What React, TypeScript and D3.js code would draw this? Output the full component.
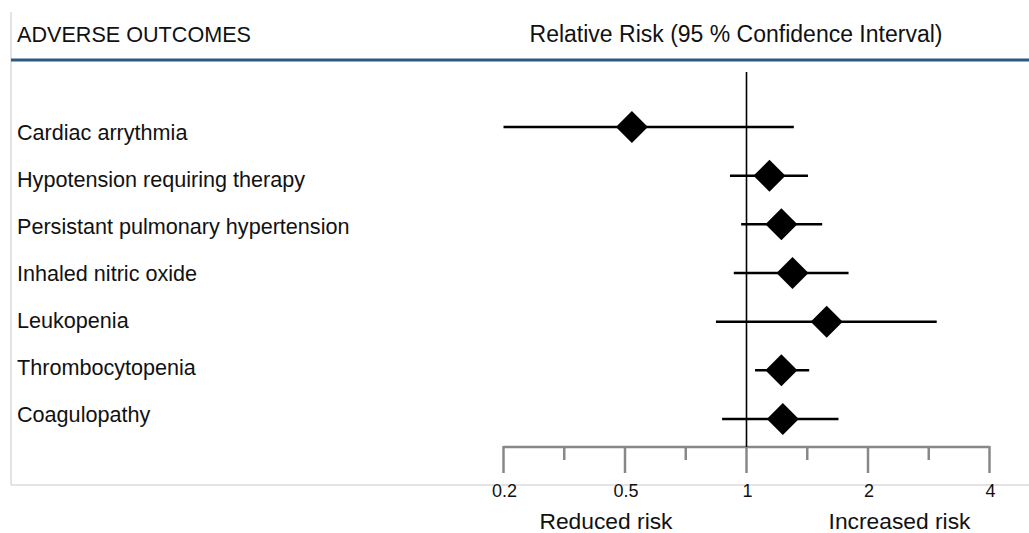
import React from "react";
import * as d3 from "d3";

const categories = [
  "Cardiac arrythmia",
  "Hypotension requiring therapy",
  "Persistant pulmonary hypertension",
  "Inhaled nitric oxide",
  "Leukopenia",
  "Thrombocytopenia",
  "Coagulopathy",
];
const riskPoint = [0.52, 1.14, 1.22, 1.3, 1.58, 1.22, 1.23];
const riskLower = [0.2, 0.91, 0.97, 0.93, 0.84, 1.05, 0.87];
const riskUpper = [1.31, 1.42, 1.54, 1.79, 2.96, 1.43, 1.69];
const tickValues = [0.2, 0.5, 1, 2, 4];
const tickLabels = ["0.2", "0.5", "1", "2", "4"];

const W = 1029;
const H = 533;
const FONT = "'Liberation Sans', Arial, Helvetica, sans-serif";

export default function App() {
  const x0 = 503.5;
  const x1 = 989.5;
  const step = (x1 - x0) / (tickValues.length - 1);
  const x = d3
    .scaleLog()
    .domain(tickValues)
    .range(tickValues.map((_, i) => x0 + i * step));

  const yMark = d3.scalePoint<string>().domain(categories).range([127, 419]);
  const yLabel = d3.scalePoint<string>().domain(categories).range([140, 422]);

  const minorTicks = tickValues.slice(1).map((v, i) => Math.sqrt(v * tickValues[i]));

  const axisY = 447;
  const diamond = d3.symbol().type(d3.symbolSquare).size(512)();

  return (
    <svg
      width={W}
      height={H}
      style={{ position: "absolute", left: 0, top: 0, background: "#fff" }}
      fontFamily={FONT}
    >
      {/* frame */}
      <line x1={11} y1={12} x2={11} y2={485} stroke="#c8c8c8" strokeWidth={1} />
      <line x1={11} y1={485} x2={W} y2={485} stroke="#c8c8c8" strokeWidth={1} />
      <line x1={11} y1={60} x2={W} y2={60} stroke="#2b5a84" strokeWidth={3} />

      {/* header */}
      <text x={17} y={41.5} fontSize={21.6} fill="#111">
        ADVERSE OUTCOMES
      </text>
      <text x={736} y={42} fontSize={23} fill="#111" textAnchor="middle">
        Relative Risk (95 % Confidence Interval)
      </text>

      {/* labels */}
      {categories.map((c) => (
        <text key={c} x={17} y={yLabel(c)} fontSize={21.6} fill="#111">
          {c}
        </text>
      ))}

      {/* axis */}
      <g stroke="#888" strokeWidth={2.5} fill="none">
        <line x1={x(tickValues[0])} x2={x(tickValues[tickValues.length - 1])} y1={axisY} y2={axisY} />
        {tickValues.map((v) => (
          <line key={"M" + v} x1={x(v)} x2={x(v)} y1={axisY - 1} y2={axisY + 26} />
        ))}
        {minorTicks.map((v) => (
          <line key={"m" + v} x1={x(v)} x2={x(v)} y1={axisY - 1} y2={axisY + 13} />
        ))}
      </g>
      {tickValues.map((v, i) => (
        <text key={"t" + v} x={x(v) + 1} y={497} fontSize={18} fill="#111" textAnchor="middle">
          {tickLabels[i]}
        </text>
      ))}
      <text x={606} y={529} fontSize={22.8} fill="#111" textAnchor="middle">
        Reduced risk
      </text>
      <text x={899.5} y={529} fontSize={22.8} fill="#111" textAnchor="middle">
        Increased risk
      </text>

      {/* reference line */}
      <line x1={x(1)} x2={x(1)} y1={72} y2={axisY} stroke="#000" strokeWidth={1.6} />

      {/* CIs and points */}
      {categories.map((c, i) => {
        const y = yMark(c)!;
        return (
          <g key={"r" + c}>
            <line x1={x(riskLower[i])} x2={x(riskUpper[i])} y1={y} y2={y} stroke="#000" strokeWidth={2.5} />
            <path d={diamond!} transform={`translate(${x(riskPoint[i])},${y}) rotate(45)`} fill="#000" />
          </g>
        );
      })}
    </svg>
  );
}
